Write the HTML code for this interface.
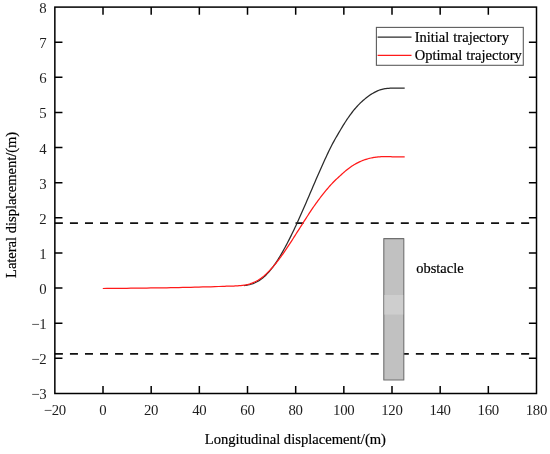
<!DOCTYPE html>
<html><head><meta charset="utf-8"><title>Trajectory</title>
<style>
html,body{margin:0;padding:0;background:#fff;}
body{width:550px;height:454px;overflow:hidden;}
svg{display:block;}
.tk{font-family:"Liberation Serif",serif;font-size:14.8px;fill:#1e1e1e;letter-spacing:-0.35px;}
.lb{font-family:"Liberation Serif",serif;fill:#000;stroke:#000;stroke-width:0.2px;}
</style></head><body>
<svg width="550" height="454" viewBox="0 0 550 454">
<rect width="550" height="454" fill="#fff"/>
<line x1="54.9" y1="223.1" x2="530" y2="223.1" stroke="#111" stroke-width="1.7" stroke-dasharray="8 7.04"/>
<line x1="54.9" y1="353.9" x2="530" y2="353.9" stroke="#111" stroke-width="1.7" stroke-dasharray="8 7.04"/>
<path d="M244.0,285.51 L245.0,285.43 L246.0,285.31 L247.0,285.16 L248.0,284.97 L249.0,284.76 L250.0,284.52 L251.0,284.24 L252.0,283.93 L253.0,283.58 L254.0,283.19 L255.0,282.77 L256.0,282.30 L257.0,281.80 L258.0,281.25 L259.0,280.64 L260.0,279.97 L261.0,279.26 L262.0,278.51 L263.0,277.71 L264.0,276.85 L265.0,275.94 L266.0,274.96 L267.0,273.92 L268.0,272.84 L269.0,271.72 L270.0,270.55 L271.0,269.33 L272.0,268.07 L273.0,266.77 L274.0,265.42 L275.0,264.02 L276.0,262.56 L277.0,261.06 L278.0,259.50 L279.0,257.91 L280.0,256.26 L281.0,254.58 L282.0,252.86 L283.0,251.10 L284.0,249.31 L285.0,247.49 L286.0,245.64 L287.0,243.75 L288.0,241.83 L289.0,239.87 L290.0,237.89 L291.0,235.88 L292.0,233.83 L293.0,231.76 L294.0,229.67 L295.0,227.55 L296.0,225.40 L297.0,223.23 L298.0,221.04 L299.0,218.83 L300.0,216.59 L301.0,214.35 L302.0,212.08 L303.0,209.80 L304.0,207.51 L305.0,205.21 L306.0,202.90 L307.0,200.59 L308.0,198.27 L309.0,195.93 L310.0,193.60 L311.0,191.26 L312.0,188.91 L313.0,186.57 L314.0,184.23 L315.0,181.90 L316.0,179.58 L317.0,177.27 L318.0,174.97 L319.0,172.69 L320.0,170.42 L321.0,168.18 L322.0,165.94 L323.0,163.72 L324.0,161.51 L325.0,159.32 L326.0,157.15 L327.0,154.99 L328.0,152.86 L329.0,150.74 L330.0,148.68 L331.0,146.69 L332.0,144.76 L333.0,142.90 L334.0,141.08 L335.0,139.30 L336.0,137.55 L337.0,135.83 L338.0,134.11 L339.0,132.41 L340.0,130.69 L341.0,128.99 L342.0,127.32 L343.0,125.68 L344.0,124.08 L345.0,122.51 L346.0,120.97 L347.0,119.47 L348.0,118.01 L349.0,116.58 L350.0,115.18 L351.0,113.82 L352.0,112.50 L353.0,111.21 L354.0,109.96 L355.0,108.75 L356.0,107.58 L357.0,106.46 L358.0,105.37 L359.0,104.33 L360.0,103.32 L361.0,102.36 L362.0,101.44 L363.0,100.55 L364.0,99.70 L365.0,98.86 L366.0,98.04 L367.0,97.24 L368.0,96.47 L369.0,95.74 L370.0,95.04 L371.0,94.38 L372.0,93.76 L373.0,93.18 L374.0,92.62 L375.0,92.08 L376.0,91.57 L377.0,91.09 L378.0,90.66 L379.0,90.26 L380.0,89.91 L381.0,89.61 L382.0,89.35 L383.0,89.11 L384.0,88.90 L385.0,88.72 L386.0,88.56 L387.0,88.43 L388.0,88.34 L389.0,88.27 L390.0,88.23 L391.0,88.21 L392.0,88.20 L393.0,88.20 L394.0,88.20 L395.0,88.20 L396.0,88.20 L397.0,88.20 L398.0,88.20 L399.0,88.20 L400.0,88.20 L401.0,88.20 L402.0,88.20 L403.0,88.20 L404.0,88.20 L404.7,88.20" fill="none" stroke="#2a2a2a" stroke-width="1.25" stroke-linejoin="round"/>
<path d="M102.8,288.50 L106.8,288.47 L110.8,288.44 L114.8,288.40 L118.8,288.37 L122.8,288.33 L126.8,288.28 L130.8,288.24 L134.8,288.19 L138.8,288.14 L142.8,288.09 L146.8,288.04 L150.8,287.98 L154.8,287.93 L158.8,287.87 L162.8,287.81 L166.8,287.76 L170.8,287.70 L174.8,287.63 L178.8,287.57 L182.8,287.49 L186.8,287.40 L190.8,287.30 L194.8,287.20 L198.8,287.09 L202.8,286.98 L206.8,286.87 L210.8,286.76 L214.8,286.64 L218.8,286.50 L222.8,286.35 L225.0,286.27 L226.0,286.23 L227.0,286.20 L228.0,286.16 L229.0,286.13 L230.0,286.10 L231.0,286.08 L232.0,286.07 L233.0,286.04 L234.0,286.01 L235.0,285.97 L236.0,285.91 L237.0,285.85 L238.0,285.76 L239.0,285.68 L240.0,285.60 L241.0,285.52 L242.0,285.43 L243.0,285.33 L244.0,285.20 L245.0,285.05 L246.0,284.87 L247.0,284.64 L248.0,284.39 L249.0,284.11 L250.0,283.80 L251.0,283.46 L252.0,283.08 L253.0,282.68 L254.0,282.24 L255.0,281.78 L256.0,281.29 L257.0,280.76 L258.0,280.20 L259.0,279.58 L260.0,278.91 L261.0,278.21 L262.0,277.46 L263.0,276.68 L264.0,275.86 L265.0,275.00 L266.0,274.09 L267.0,273.14 L268.0,272.16 L269.0,271.15 L270.0,270.11 L271.0,269.03 L272.0,267.93 L273.0,266.80 L274.0,265.64 L275.0,264.45 L276.0,263.23 L277.0,261.96 L278.0,260.67 L279.0,259.34 L280.0,257.99 L281.0,256.61 L282.0,255.21 L283.0,253.78 L284.0,252.35 L285.0,250.90 L286.0,249.43 L287.0,247.94 L288.0,246.44 L289.0,244.92 L290.0,243.38 L291.0,241.84 L292.0,240.29 L293.0,238.73 L294.0,237.16 L295.0,235.60 L296.0,234.03 L297.0,232.45 L298.0,230.88 L299.0,229.30 L300.0,227.73 L301.0,226.16 L302.0,224.59 L303.0,223.03 L304.0,221.46 L305.0,219.90 L306.0,218.34 L307.0,216.78 L308.0,215.24 L309.0,213.70 L310.0,212.18 L311.0,210.68 L312.0,209.19 L313.0,207.72 L314.0,206.27 L315.0,204.85 L316.0,203.44 L317.0,202.05 L318.0,200.69 L319.0,199.34 L320.0,198.00 L321.0,196.69 L322.0,195.40 L323.0,194.12 L324.0,192.87 L325.0,191.63 L326.0,190.42 L327.0,189.23 L328.0,188.05 L329.0,186.90 L330.0,185.77 L331.0,184.67 L332.0,183.60 L333.0,182.55 L334.0,181.54 L335.0,180.55 L336.0,179.57 L337.0,178.62 L338.0,177.68 L339.0,176.76 L340.0,175.84 L341.0,174.93 L342.0,174.02 L343.0,173.13 L344.0,172.25 L345.0,171.38 L346.0,170.54 L347.0,169.72 L348.0,168.93 L349.0,168.17 L350.0,167.45 L351.0,166.75 L352.0,166.08 L353.0,165.44 L354.0,164.82 L355.0,164.23 L356.0,163.66 L357.0,163.11 L358.0,162.60 L359.0,162.11 L360.0,161.64 L361.0,161.20 L362.0,160.78 L363.0,160.39 L364.0,160.02 L365.0,159.67 L366.0,159.34 L367.0,159.03 L368.0,158.75 L369.0,158.48 L370.0,158.24 L371.0,158.01 L372.0,157.81 L373.0,157.62 L374.0,157.45 L375.0,157.29 L376.0,157.15 L377.0,157.03 L378.0,156.92 L379.0,156.83 L380.0,156.76 L381.0,156.70 L382.0,156.65 L383.0,156.61 L384.0,156.57 L385.0,156.55 L386.0,156.53 L387.0,156.53 L388.0,156.57 L389.0,156.62 L390.0,156.68 L391.0,156.74 L392.0,156.78 L393.0,156.80 L394.0,156.80 L395.0,156.80 L396.0,156.80 L397.0,156.80 L398.0,156.80 L399.0,156.80 L400.0,156.80 L401.0,156.80 L402.0,156.80 L403.0,156.80 L404.0,156.80 L404.7,156.80" fill="none" stroke="#ff1a1a" stroke-width="1.25" stroke-linejoin="round"/>
<rect x="383.8" y="238.6" width="20" height="141.4" fill="#c1c1c1" stroke="#707070" stroke-width="1.1" stroke-linejoin="round"/>
<rect x="384.4" y="295" width="18.8" height="19.6" fill="#cecece"/>
<text class="lb" x="416.3" y="272.7" font-size="14.45">obstacle</text>
<rect x="54.85" y="7.1" width="481.65" height="386.40" fill="none" stroke="#000" stroke-width="1.5"/>
<path d="M103.01,393.5v-7.6M103.01,7.1v7.6M151.18,393.5v-7.6M151.18,7.1v7.6M199.34,393.5v-7.6M199.34,7.1v7.6M247.51,393.5v-7.6M247.51,7.1v7.6M295.68,393.5v-7.6M295.68,7.1v7.6M343.84,393.5v-7.6M343.84,7.1v7.6M392.00,393.5v-7.6M392.00,7.1v7.6M440.17,393.5v-7.6M440.17,7.1v7.6M488.33,393.5v-7.6M488.33,7.1v7.6M54.85,358.37h7.6M536.5,358.37h-7.6M54.85,323.25h7.6M536.5,323.25h-7.6M54.85,288.12h7.6M536.5,288.12h-7.6M54.85,252.99h7.6M536.5,252.99h-7.6M54.85,217.86h7.6M536.5,217.86h-7.6M54.85,182.74h7.6M536.5,182.74h-7.6M54.85,147.61h7.6M536.5,147.61h-7.6M54.85,112.48h7.6M536.5,112.48h-7.6M54.85,77.35h7.6M536.5,77.35h-7.6M54.85,42.23h7.6M536.5,42.23h-7.6" fill="none" stroke="#000" stroke-width="1.5"/>
<text class="tk" x="54.8" y="414.6" text-anchor="middle">−20</text>
<text class="tk" x="102.9" y="414.6" text-anchor="middle">0</text>
<text class="tk" x="151.1" y="414.6" text-anchor="middle">20</text>
<text class="tk" x="199.2" y="414.6" text-anchor="middle">40</text>
<text class="tk" x="247.4" y="414.6" text-anchor="middle">60</text>
<text class="tk" x="295.6" y="414.6" text-anchor="middle">80</text>
<text class="tk" x="343.7" y="414.6" text-anchor="middle">100</text>
<text class="tk" x="391.9" y="414.6" text-anchor="middle">120</text>
<text class="tk" x="440.1" y="414.6" text-anchor="middle">140</text>
<text class="tk" x="488.2" y="414.6" text-anchor="middle">160</text>
<text class="tk" x="536.4" y="414.6" text-anchor="middle">180</text>
<text class="tk" x="46.3" y="399.4" text-anchor="end">−3</text>
<text class="tk" x="46.3" y="364.3" text-anchor="end">−2</text>
<text class="tk" x="46.3" y="329.1" text-anchor="end">−1</text>
<text class="tk" x="46.3" y="294.0" text-anchor="end">0</text>
<text class="tk" x="46.3" y="258.9" text-anchor="end">1</text>
<text class="tk" x="46.3" y="223.8" text-anchor="end">2</text>
<text class="tk" x="46.3" y="188.6" text-anchor="end">3</text>
<text class="tk" x="46.3" y="153.5" text-anchor="end">4</text>
<text class="tk" x="46.3" y="118.4" text-anchor="end">5</text>
<text class="tk" x="46.3" y="83.3" text-anchor="end">6</text>
<text class="tk" x="46.3" y="48.1" text-anchor="end">7</text>
<text class="tk" x="46.3" y="13.0" text-anchor="end">8</text>
<text class="lb" x="295.4" y="444.0" font-size="14.6" text-anchor="middle">Longitudinal displacement/(m)</text>
<text class="lb" transform="translate(16.3,204.9) rotate(-90)" font-size="14.5" text-anchor="middle">Lateral displacement/(m)</text>
<rect x="376.4" y="27.4" width="146.9" height="37.9" fill="#fff" stroke="#5c5c5c" stroke-width="1.1"/>
<line x1="377.6" y1="37.15" x2="411.5" y2="37.15" stroke="#2a2a2a" stroke-width="1.2"/>
<line x1="377.6" y1="55.45" x2="411.5" y2="55.45" stroke="#ff1a1a" stroke-width="1.2"/>
<text class="lb" x="414.7" y="41.8" font-size="14.5" word-spacing="0.4">Initial trajectory</text>
<text class="lb" x="414.7" y="60.1" font-size="14.5" word-spacing="0.4">Optimal trajectory</text>
</svg></body></html>
